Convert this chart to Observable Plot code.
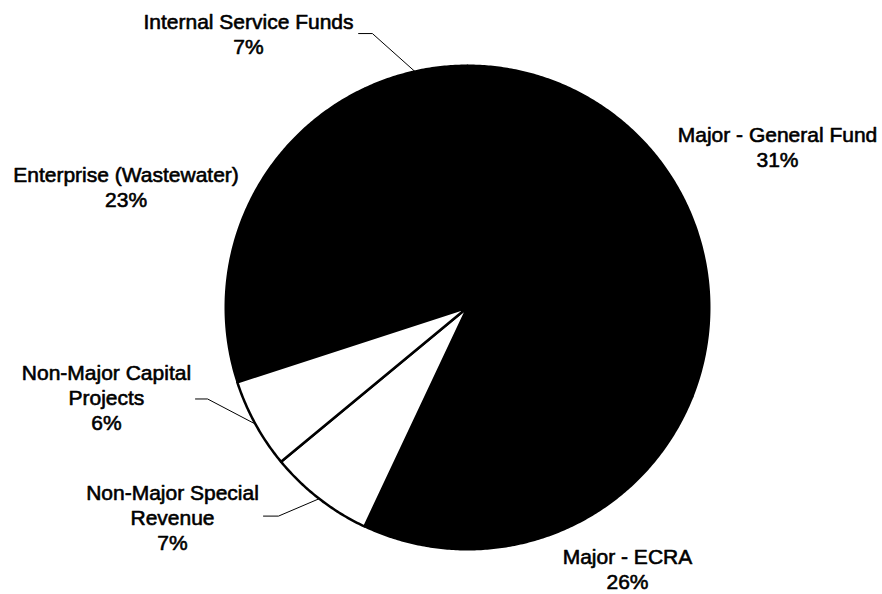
<!DOCTYPE html>
<html>
<head>
<meta charset="utf-8">
<script src="https://cdn.jsdelivr.net/npm/d3@7"></script>
<script src="https://cdn.jsdelivr.net/npm/@observablehq/plot@0.6"></script>
<style>
  html, body { margin: 0; padding: 0; background: #fff; }
  #chart svg { display: block; }
</style>
</head>
<body>
<div id="chart"></div>
<script>
// ---- Data ----
const names = ["Major - General Fund", "Major - ECRA", "Non-Major Special Revenue",
               "Non-Major Capital Projects", "Enterprise (Wastewater)", "Internal Service Funds"];
const values = [31, 26, 7, 6, 23, 7];
const labelLines = ["Major - General Fund", "Major - ECRA", "Non-Major Special\nRevenue",
                    "Non-Major Capital\nProjects", "Enterprise (Wastewater)", "Internal Service Funds"];
const sliceFill = ["black", "black", "white", "white", "black", "black"];

// ---- Layout (unit-circle coordinates: pie radius = 1) ----
const labelPos = [
  [1.281, 0.579], [0.661, -1.165], [-1.219, -1.004],
  [-1.492, -0.508], [-1.411, 0.415], [-0.905, 1.048]
];
// leader lines: [stub start, elbow] ; end point is the slice mid-angle on the rim
const leaders = {
  2: [[-0.843, -0.862], [-0.781, -0.862]],
  3: [[-1.124, -0.378], [-1.074, -0.378]],
  5: [[-0.450, 1.132], [-0.393, 1.132]]
};

const total = d3.sum(values);
const slicePts = [];
let acc = 0;
const mids = [];
values.forEach((v, i) => {
  const a0 = 2 * Math.PI * acc / total;
  const a1 = 2 * Math.PI * (acc + v) / total;
  mids.push((a0 + a1) / 2);
  slicePts.push({name: names[i], fill: sliceFill[i], x: 0, y: 0});
  const n = Math.max(2, Math.ceil((a1 - a0) / (Math.PI / 360)));
  for (let k = 0; k <= n; k++) {
    const a = a0 + (a1 - a0) * k / n;
    slicePts.push({name: names[i], fill: sliceFill[i], x: Math.sin(a), y: Math.cos(a)});
  }
  slicePts.push({name: names[i], fill: sliceFill[i], x: 0, y: 0});
  acc += v;
});

const labels = names.map((n, i) => ({
  text: labelLines[i] + "\n" + values[i] + "%",
  x: labelPos[i][0], y: labelPos[i][1]
}));

const leaderPts = [];
Object.entries(leaders).forEach(([i, pts]) => {
  const a = mids[+i];
  leaderPts.push({id: i, x: pts[0][0], y: pts[0][1]});
  leaderPts.push({id: i, x: pts[1][0], y: pts[1][1]});
  leaderPts.push({id: i, x: Math.sin(a), y: Math.cos(a)});
});

const chart = Plot.plot({
  width: 882,
  height: 594,
  margin: 0,
  style: {background: "#fff", fontFamily: "'Liberation Sans', Arial, sans-serif"},
  x: {domain: [-1, 1], range: [225, 709], axis: null},
  y: {domain: [-1, 1], range: [549, 65], axis: null},
  marks: [
    Plot.line(slicePts.filter(d => d.fill === "black"), {
      x: "x", y: "y", z: "name", fill: "black", stroke: "black", strokeWidth: 2, strokeLinejoin: "round", curve: "linear"
    }),
    Plot.line(slicePts.filter(d => d.fill === "white"), {
      x: "x", y: "y", z: "name", fill: "white", stroke: "black", strokeWidth: 2.5, strokeLinejoin: "round", curve: "linear"
    }),
    Plot.line(leaderPts, {x: "x", y: "y", z: "id", stroke: "black", strokeWidth: 1}),
    Plot.text(labels, {
      x: "x", y: "y", text: "text", textAnchor: "middle", lineAnchor: "bottom",
      fontSize: 21, lineHeight: 1.2, fill: "black", stroke: "black", strokeWidth: 0.6
    })
  ]
});
document.getElementById("chart").appendChild(chart);
</script>
</body>
</html>
